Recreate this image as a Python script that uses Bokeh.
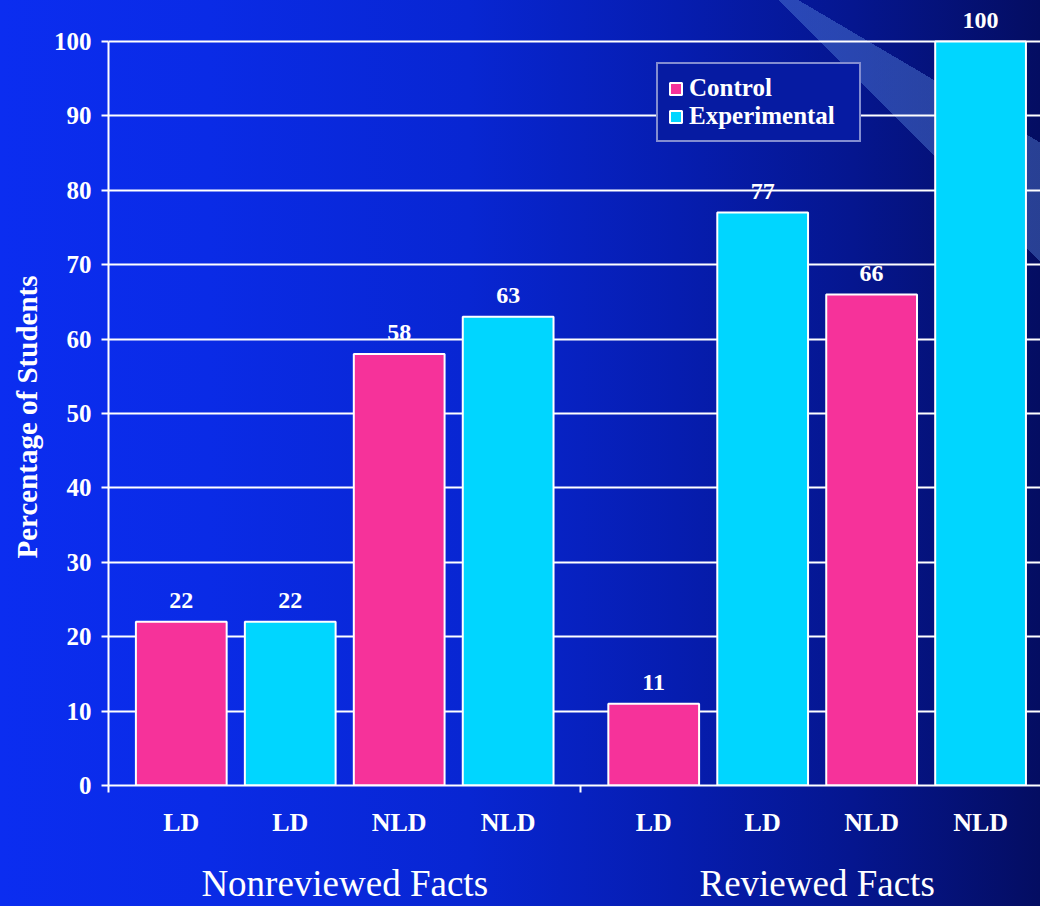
from bokeh.plotting import figure
from bokeh.models import (ColumnDataSource, Range1d, FixedTicker, Legend, LegendItem,
                          LinearAxis, Title, GlobalInlineStyleSheet)
from bokeh.core.properties import value
from bokeh.embed import file_html
from bokeh.resources import INLINE

# ---------------- data ----------------
groups = ["Nonreviewed Facts", "Reviewed Facts"]
subgroups = ["LD", "LD", "NLD", "NLD"]
conditions = ["Control", "Experimental", "Control", "Experimental"]
nonreviewed = [22, 22, 58, 63]
reviewed = [11, 77, 66, 100]
y_ticks = [0, 10, 20, 30, 40, 50, 60, 70, 80, 90, 100]
y_title = "Percentage of Students"
series_colors = {"Control": "#F6329A", "Experimental": "#00D6FF"}

# ---------------- layout constants ----------------
GROUP_GAP = 0.336
BAR_W = 0.833
STEP = len(subgroups) + GROUP_GAP
FONT = "Liberation Serif"

values_by_group = [nonreviewed, reviewed]
xs, tops, sub_labels, conds = [], [], [], []
for g, vals in enumerate(values_by_group):
    for j, v in enumerate(vals):
        xs.append(g * STEP + j)
        tops.append(v)
        sub_labels.append(subgroups[j])
        conds.append(conditions[j])

group_centers = [g * STEP + (len(subgroups) - 1) / 2 for g in range(len(groups))]
separators = [c - STEP / 2 for c in group_centers] + [group_centers[-1] + STEP / 2]

p = figure(width=1040, height=906, output_backend="svg", toolbar_location=None,
           x_range=Range1d(separators[0], xs[-1] + 0.55),
           y_range=Range1d(0, 105.5),
           min_border_left=107, min_border_right=0, min_border_top=0, min_border_bottom=121)

p.border_fill_color = None
p.background_fill_color = None
p.outline_line_color = None

css = """
html, body {
  margin: 0;
  padding: 0;
  background:
    conic-gradient(from 0deg at 749px -29px, rgba(0,0,0,0) 0deg 120.5deg,
        rgba(105,155,235,0.36) 120.5deg 135deg, rgba(0,0,0,0) 135deg 360deg),
    linear-gradient(90deg, #0B2DF0 0%, #0A2BE6 20%, #0826D2 45%, #061DB0 65%, #05168F 82%, #040D62 100%);
  background-attachment: fixed;
  overflow: hidden;
}
"""
p.stylesheets = [GlobalInlineStyleSheet(css=css)]

# bars
renderers = {}
for cond in ["Control", "Experimental"]:
    idx = [i for i, c in enumerate(conds) if c == cond]
    src = ColumnDataSource(dict(x=[xs[i] for i in idx], top=[tops[i] for i in idx]))
    renderers[cond] = p.vbar(x="x", top="top", width=BAR_W, source=src,
                             fill_color=series_colors[cond], line_color="white", line_width=2)

# value labels
lab_src = ColumnDataSource(dict(x=xs, y=tops, t=[str(v) for v in tops]))
p.text(x="x", y="y", text="t", source=lab_src, y_offset=-21,
       text_align="center", text_baseline="alphabetic",
       text_font=value(FONT), text_font_style="bold", text_font_size="24px",
       text_color="white")

# grid
p.xgrid.visible = False
p.ygrid.ticker = FixedTicker(ticks=y_ticks)
p.ygrid.grid_line_color = "white"
p.ygrid.grid_line_width = 2

# y axis
ya = p.yaxis[0]
ya.ticker = FixedTicker(ticks=y_ticks)
ya.bounds = (0, 100)
ya.axis_line_color = "white"
ya.axis_line_width = 2
ya.major_tick_line_color = "white"
ya.major_tick_line_width = 2
ya.major_tick_out = 7
ya.major_tick_in = 0
ya.minor_tick_line_color = None
ya.major_label_standoff = 10
ya.major_label_text_color = "white"
ya.major_label_text_font = FONT
ya.major_label_text_font_style = "bold"
ya.major_label_text_font_size = "25px"

# y title (aligned to the 0..100 span of the axis)
p.add_layout(Title(text=y_title, align="left", offset=227, standoff=16,
                   text_color="white", text_font=FONT, text_font_style="bold",
                   text_font_size="29px"), "left")

# x axis: sub labels at bars, ticks at group separators
xa = p.xaxis[0]
xa.ticker = FixedTicker(ticks=xs, minor_ticks=separators)
xa.major_label_overrides = {x: s for x, s in zip(xs, sub_labels)}
xa.axis_line_color = "white"
xa.axis_line_width = 2
xa.major_tick_line_color = None
xa.major_tick_out = 0
xa.major_tick_in = 0
xa.minor_tick_line_color = "white"
xa.minor_tick_line_width = 2
xa.minor_tick_out = 7
xa.minor_tick_in = 0
xa.major_label_standoff = 15
xa.major_label_text_color = "white"
xa.major_label_text_font = FONT
xa.major_label_text_font_style = "bold"
xa.major_label_text_font_size = "26px"

# group axis
ga = LinearAxis(ticker=FixedTicker(ticks=group_centers, minor_ticks=[]),
                major_label_overrides={c: t for c, t in zip(group_centers, groups)},
                axis_line_color=None, major_tick_line_color=None, minor_tick_line_color=None,
                major_tick_out=0, major_tick_in=0, minor_tick_out=0, minor_tick_in=0,
                major_label_standoff=23, major_label_text_color="white",
                major_label_text_font=FONT, major_label_text_font_size="37px")
p.add_layout(ga, "below")

# legend
legend = Legend(items=[LegendItem(label=c, renderers=[renderers[c]]) for c in ["Control", "Experimental"]],
                location=(548, 643), margin=0, padding=10, spacing=0,
                glyph_width=15, glyph_height=15, label_standoff=6, label_width=160,
                label_text_color="white", label_text_font=FONT,
                label_text_font_style="bold", label_text_font_size="25px",
                border_line_color="white", border_line_width=2,
                background_fill_color="#061BA2", background_fill_alpha=1.0)
p.add_layout(legend, "center")

open("out.html", "w").write(file_html(p, INLINE, title="chart"))
